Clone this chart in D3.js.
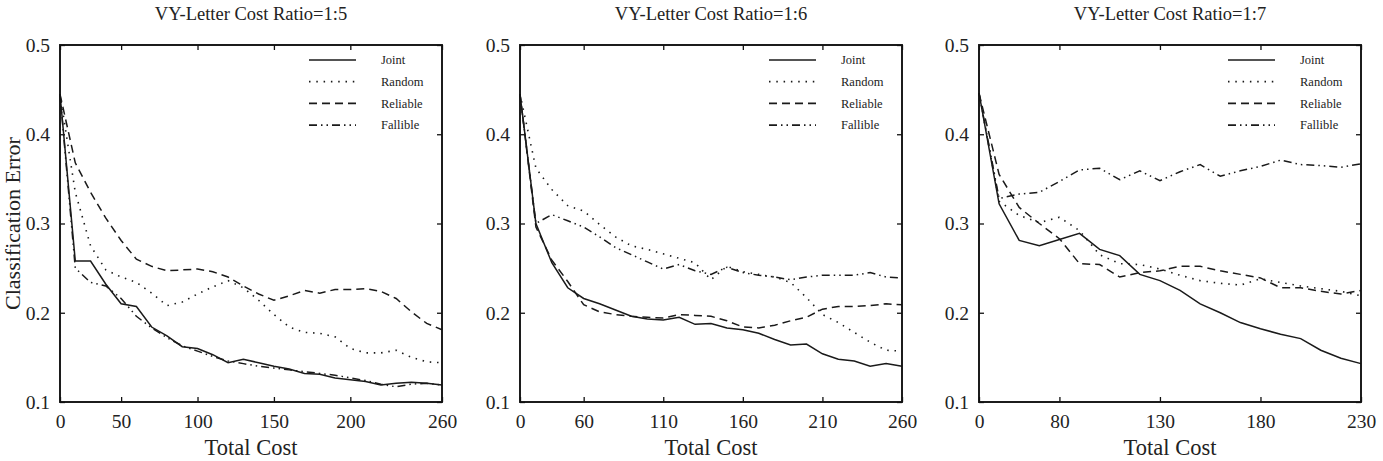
<!DOCTYPE html>
<html>
<head>
<meta charset="utf-8">
<script src="https://cdn.jsdelivr.net/npm/d3@7"></script>
<style>
  body { margin: 0; background: #fff; }
  svg { display: block; }
  text { font-family: "Liberation Serif", "Times New Roman", serif; fill: #222; }
</style>
</head>
<body>
<svg id="chart" width="1383" height="461"></svg>
<script>
const seriesNames = ["Joint", "Random", "Reliable", "Fallible"];
const titles = ["VY-Letter Cost Ratio=1:5", "VY-Letter Cost Ratio=1:6", "VY-Letter Cost Ratio=1:7"];
const yTicks = [0.1, 0.2, 0.3, 0.4, 0.5];

// panel 1 (1:5)
const cost1 = [10, 20, 30, 40, 50, 60, 70, 80, 90, 100, 110, 120, 130, 140, 150, 160, 170, 180, 190, 200, 210, 220, 230, 240, 250, 260];
const joint1 = [0.445, 0.258, 0.258, 0.232, 0.210, 0.207, 0.184, 0.174, 0.162, 0.160, 0.153, 0.144, 0.148, 0.144, 0.140, 0.137, 0.132, 0.131, 0.127, 0.125, 0.123, 0.119, 0.121, 0.122, 0.121, 0.119];
const random1 = [0.445, 0.335, 0.275, 0.248, 0.240, 0.234, 0.222, 0.208, 0.212, 0.221, 0.229, 0.236, 0.228, 0.214, 0.198, 0.184, 0.178, 0.177, 0.173, 0.160, 0.155, 0.155, 0.158, 0.150, 0.145, 0.144];
const reliable1 = [0.445, 0.368, 0.335, 0.306, 0.281, 0.260, 0.252, 0.247, 0.248, 0.249, 0.246, 0.240, 0.230, 0.221, 0.214, 0.219, 0.225, 0.222, 0.226, 0.226, 0.227, 0.224, 0.216, 0.201, 0.188, 0.181];
const fallible1 = [0.445, 0.250, 0.234, 0.230, 0.216, 0.196, 0.183, 0.172, 0.163, 0.157, 0.151, 0.146, 0.143, 0.140, 0.138, 0.136, 0.134, 0.132, 0.130, 0.127, 0.124, 0.120, 0.117, 0.120, 0.121, 0.119];
const xTicks1 = [10, 50, 100, 150, 200, 260];
const xLabels1 = ["0", "50", "100", "150", "200", "260"];

// panel 2 (1:6)
const cost2 = [20, 30, 40, 50, 60, 70, 80, 90, 100, 110, 120, 130, 140, 150, 160, 170, 180, 190, 200, 210, 220, 230, 240, 250, 260];
const joint2 = [0.445, 0.300, 0.256, 0.228, 0.216, 0.210, 0.203, 0.196, 0.193, 0.192, 0.195, 0.187, 0.188, 0.183, 0.181, 0.177, 0.170, 0.164, 0.165, 0.154, 0.148, 0.146, 0.140, 0.143, 0.140];
const random2 = [0.445, 0.362, 0.338, 0.320, 0.314, 0.299, 0.285, 0.275, 0.271, 0.266, 0.261, 0.256, 0.237, 0.252, 0.246, 0.243, 0.240, 0.234, 0.217, 0.198, 0.189, 0.178, 0.167, 0.158, 0.157];
const reliable2 = [0.445, 0.296, 0.259, 0.235, 0.209, 0.201, 0.198, 0.196, 0.195, 0.194, 0.198, 0.197, 0.196, 0.191, 0.184, 0.183, 0.186, 0.191, 0.195, 0.204, 0.207, 0.207, 0.208, 0.210, 0.209];
const fallible2 = [0.445, 0.300, 0.310, 0.303, 0.296, 0.285, 0.273, 0.265, 0.257, 0.249, 0.254, 0.247, 0.243, 0.251, 0.245, 0.242, 0.240, 0.237, 0.240, 0.242, 0.242, 0.242, 0.245, 0.240, 0.239];
const xTicks2 = [20, 60, 110, 160, 210, 260];
const xLabels2 = ["0", "60", "110", "160", "210", "260"];

// panel 3 (1:7)
const cost3 = [40, 50, 60, 70, 80, 90, 100, 110, 120, 130, 140, 150, 160, 170, 180, 190, 200, 210, 220, 230];
const joint3 = [0.446, 0.322, 0.281, 0.275, 0.282, 0.289, 0.271, 0.264, 0.243, 0.236, 0.225, 0.210, 0.200, 0.189, 0.182, 0.176, 0.171, 0.158, 0.149, 0.143];
const random3 = [0.446, 0.325, 0.309, 0.301, 0.307, 0.292, 0.265, 0.255, 0.254, 0.249, 0.242, 0.236, 0.233, 0.231, 0.238, 0.234, 0.230, 0.227, 0.224, 0.219];
const reliable3 = [0.446, 0.355, 0.318, 0.300, 0.283, 0.255, 0.254, 0.240, 0.245, 0.247, 0.252, 0.252, 0.247, 0.243, 0.239, 0.228, 0.228, 0.224, 0.221, 0.225];
const fallible3 = [0.446, 0.328, 0.333, 0.335, 0.347, 0.360, 0.362, 0.349, 0.359, 0.348, 0.358, 0.366, 0.353, 0.359, 0.364, 0.371, 0.366, 0.365, 0.363, 0.367];
const xTicks3 = [40, 80, 130, 180, 230];
const xLabels3 = ["0", "80", "130", "180", "230"];

const panels = [
    {title: titles[0], cost: cost1, series: [joint1, random1, reliable1, fallible1], ticks: xTicks1, labels: xLabels1},
    {title: titles[1], cost: cost2, series: [joint2, random2, reliable2, fallible2], ticks: xTicks2, labels: xLabels2},
    {title: titles[2], cost: cost3, series: [joint3, random3, reliable3, fallible3], ticks: xTicks3, labels: xLabels3}
];

// line styles: solid, dotted, dashed, dash-dot-dot
const dashes = [null, "1.5,5.8", "8,5", "8,4,1.5,4,1.5,4"];

const svg = d3.select("#chart");
const lefts = [60, 520, 979];
const topY = 45, pw = 382, ph = 357;

panels.forEach((p, i) => {
    const g = svg.append("g").attr("transform", `translate(${lefts[i]},${topY})`);
    const x = d3.scaleLinear().domain([p.ticks[0], p.ticks[p.ticks.length - 1]]).range([0, pw]);
    const y = d3.scaleLinear().domain([0.1, 0.5]).range([ph, 0]);

    const tickLabel = d => p.labels[p.ticks.indexOf(d)];

    const bottom = g.append("g").attr("transform", `translate(0,${ph})`)
        .call(d3.axisBottom(x).tickValues(p.ticks).tickSize(-5).tickPadding(12).tickFormat(tickLabel));
    g.append("g").call(d3.axisTop(x).tickValues(p.ticks).tickSize(-5).tickFormat(""));
    const left = g.append("g").call(d3.axisLeft(y).tickValues(yTicks).tickSize(-5).tickPadding(10).tickFormat(d3.format(".1f")));
    g.append("g").attr("transform", `translate(${pw},0)`)
        .call(d3.axisRight(y).tickValues(yTicks).tickSize(-5).tickFormat(""));

    g.selectAll(".domain").remove();
    g.selectAll(".tick line").attr("stroke", "#111").attr("stroke-width", 1.3);
    bottom.selectAll("text").attr("font-size", 19.5).attr("font-family", "Liberation Serif").attr("fill", "#222");
    left.selectAll("text").attr("font-size", 19.5).attr("font-family", "Liberation Serif").attr("fill", "#222");

    const line = d3.line().x((d, j) => x(p.cost[j])).y(d => y(d));
    p.series.forEach((s, k) => {
        g.append("path").datum(s)
            .attr("fill", "none")
            .attr("stroke", "#1a1a1a")
            .attr("stroke-width", k === 1 ? 1.6 : 1.5)
            .attr("stroke-dasharray", dashes[k])
            .attr("d", line);
    });

    g.append("rect").attr("width", pw).attr("height", ph)
        .attr("fill", "none").attr("stroke", "#111").attr("stroke-width", 1.9);

    // legend
    const lg = g.append("g");
    seriesNames.forEach((name, k) => {
        const ly = 15 + k * 21.7;
        lg.append("line").attr("x1", pw - 133).attr("x2", pw - 86).attr("y1", ly).attr("y2", ly)
            .attr("stroke", "#1a1a1a").attr("stroke-width", 1.7)
            .attr("stroke-dasharray", dashes[k]);
        lg.append("text").attr("x", pw - 61).attr("y", ly).attr("dy", "0.35em")
            .attr("font-size", 12.5).text(name);
    });

    g.append("text").attr("x", pw / 2).attr("y", -25).attr("text-anchor", "middle")
        .attr("font-size", 18.5).text(p.title);
    g.append("text").attr("x", pw / 2).attr("y", ph + 53).attr("text-anchor", "middle")
        .attr("font-size", 22.5).text("Total Cost");
});

svg.append("text")
    .attr("transform", `translate(20,${topY + ph / 2}) rotate(-90)`)
    .attr("text-anchor", "middle").attr("font-size", 22)
    .text("Classification Error");
</script>
</body>
</html>
